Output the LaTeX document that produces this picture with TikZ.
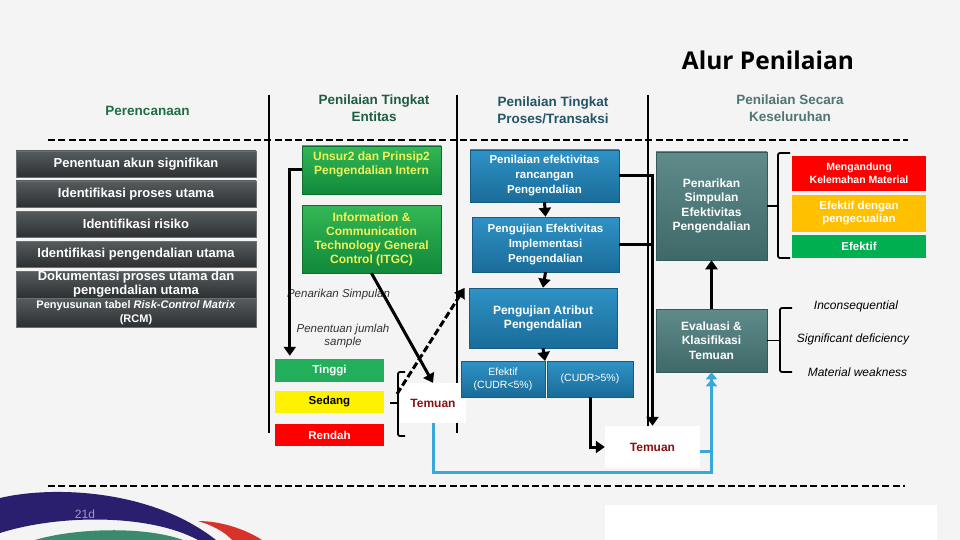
\documentclass[tikz,border=0pt]{standalone}
\usepackage{fontspec}
\setmainfont{Liberation Sans}
\newfontfamily\titlefont{Open Sans}
\usetikzlibrary{arrows.meta,calc}
\definecolor{bg}{HTML}{F4F4F4}
\definecolor{dkT}{HTML}{565B5E}
\definecolor{dkB}{HTML}{2C3033}
\definecolor{dkE}{HTML}{6A6F72}
\definecolor{gT}{HTML}{34B755}
\definecolor{gB}{HTML}{10893B}
\definecolor{bT}{HTML}{2F92C6}
\definecolor{bB}{HTML}{1A6C99}
\definecolor{tT}{HTML}{5F8B8A}
\definecolor{tB}{HTML}{3E6968}
\definecolor{ytext}{HTML}{F2F25A}
\definecolor{hA}{HTML}{1E6E44}
\definecolor{hB}{HTML}{1F5D42}
\definecolor{hC}{HTML}{245468}
\definecolor{hD}{HTML}{4F7473}
\definecolor{temred}{HTML}{8A1010}
\definecolor{lblue}{HTML}{38A7D9}
\definecolor{navy}{HTML}{2A1F6E}
\definecolor{lgreen}{HTML}{3A8A6E}
\definecolor{lred}{HTML}{D8322A}
\definecolor{amber}{HTML}{FFC000}
\definecolor{okgreen}{HTML}{00B050}
\definecolor{tgreen}{HTML}{22AE5B}
\tikzset{
  darkbox/.style={top color=dkT, bottom color=dkB, draw=dkE, line width=0.6pt,
    text=white, font=\bfseries\fontsize{13}{14}\selectfont, minimum width=240pt,
    inner sep=0pt, align=center},
  greenbox/.style={top color=gT, bottom color=gB, draw=gB!80!black, line width=0.5pt,
    text=ytext, font=\bfseries\fontsize{12}{14}\selectfont, minimum width=139pt,
    inner sep=0pt, align=center},
  bluebox/.style={top color=bT, bottom color=bB, draw=bB!85!black, line width=0.5pt,
    text=white, font=\bfseries\fontsize{11.5}{15}\selectfont, inner sep=0pt, align=center},
  tealbox/.style={top color=tT, bottom color=tB, draw=tB!85!black, line width=0.5pt,
    text=white, font=\bfseries\fontsize{12}{14.5}\selectfont, minimum width=111pt,
    inner sep=0pt, align=center},
  flat/.style={inner sep=0pt, align=center, font=\bfseries\fontsize{11.5}{13}\selectfont},
  hdr/.style={font=\bfseries\fontsize{13.5}{17}\selectfont, align=center},
  ital/.style={font=\itshape\fontsize{12}{13}\selectfont, align=center},
  temuan/.style={fill=white, text=temred, font=\bfseries\fontsize{12}{14}\selectfont, inner sep=0pt},
  sepline/.style={line width=1.8pt, black},
  dashline/.style={line width=2.8pt, black, dash pattern=on 7pt off 3.3pt},
  arr/.style={line width=3pt, -{Triangle[length=9pt,width=12pt]}},
  plainline/.style={line width=3pt},
  dasharr/.style={line width=3pt, dash pattern=on 7pt off 3pt, -{Triangle[length=10pt,width=12pt]}},
  brk/.style={line width=1.8pt, rounded corners=2pt},
  blueline/.style={line width=3pt, lblue},
}
\begin{document}
\begin{tikzpicture}[x=1pt,y=-1pt]
\useasboundingbox (0,0) rectangle (960,540);
\fill[bg] (0,0) rectangle (960,540);

% title
\node[font=\titlefont\bfseries\fontsize{24.5}{28}\selectfont] (title) at (768,60) {Alur Penilaian};

% headers
\node[hdr, text=hA] (h1) at (147.5,111) {Perencanaan};
\node[hdr, text=hB] (h2) at (374,108.5) {Penilaian Tingkat\\Entitas};
\node[hdr, text=hC] (h3) at (553,110) {Penilaian Tingkat\\Proses/Transaksi};
\node[hdr, text=hD] (h4) at (790,108) {Penilaian Secara\\Keseluruhan};

% separators and dashed rules
\draw[sepline] (269,95) -- (269,433);
\draw[sepline] (457,95) -- (457,433);
\draw[sepline] (648,95) -- (648,433);
\draw[dashline] (48,140) -- (908,140);
\draw[dashline] (48,486) -- (905,486);

% left column
\node[darkbox, minimum height=26pt] (p1) at (136,164) {Penentuan akun signifikan};
\node[darkbox, minimum height=26pt] (p2) at (136,194) {Identifikasi proses utama};
\node[darkbox, minimum height=26pt] (p3) at (136,224) {Identifikasi risiko};
\node[darkbox, minimum height=26pt] (p4) at (136,254) {Identifikasi pengendalian utama};
\node[darkbox, minimum height=27pt] (p5) at (136,284.5) {Dokumentasi proses utama dan\\pengendalian utama};
\node[darkbox, minimum height=29pt, font=\bfseries\fontsize{11}{14.5}\selectfont] (p6) at (136,312.5) {Penyusunan tabel \textit{Risk-Control Matrix}\\(RCM)};

% entity column
\node[greenbox, minimum height=48pt,
  label={[text=ytext, font=\bfseries\fontsize{12}{14}\selectfont, align=center, anchor=north, yshift=-3pt]north:Unsur2 dan Prinsip2\\Pengendalian Intern}] (g1) at (371.5,170) {};
\node[greenbox, minimum height=68pt] (g2) at (371.5,239) {Information \&\\Communication\\Technology General\\Control (ITGC)};

\node[ital, text=black!80, font=\itshape\fontsize{11.5}{13}\selectfont] (ps) at (338.5,295) {Penarikan Simpulan};
\node[ital, text=black!80, font=\itshape\fontsize{11.5}{13}\selectfont] (pj) at (343,336.5) {Penentuan jumlah\\sample};

\node[flat, fill=tgreen, text=white, minimum width=109pt, minimum height=23pt] (tg) at (329.5,370.5) {Tinggi};
\node[flat, fill=yellow, text=black, minimum width=109pt, minimum height=22pt] (sd) at (329.5,402) {Sedang};
\node[flat, fill=red, text=white, minimum width=109pt, minimum height=22pt] (rd) at (329.5,435) {Rendah};

\node[temuan, minimum width=66pt, minimum height=40pt] (t1) at (433,403) {Temuan};

% process column
\node[bluebox, minimum width=149pt, minimum height=52pt] (A) at (544.5,176) {Penilaian efektivitas\\rancangan\\Pengendalian};
\node[bluebox, minimum width=147pt, minimum height=55pt] (B) at (545.5,244.5) {Pengujian Efektivitas\\Implementasi\\Pengendalian};
\node[bluebox, minimum width=148pt, minimum height=60pt, font=\bfseries\fontsize{12}{14}\selectfont] (C) at (543,318) {Pengujian Atribut\\Pengendalian};
\node[bluebox, minimum width=84pt, minimum height=36pt, font=\fontsize{10.5}{13}\selectfont] (D1) at (503,379) {Efektif\\(CUDR<5\%)};
\node[bluebox, minimum width=86pt, minimum height=36pt, font=\fontsize{10.5}{13}\selectfont] (D2) at (590,379) {(CUDR>5\%)};
\coordinate (dtop) at (545,361);

\node[temuan, minimum width=95pt, minimum height=42pt] (t2) at (652.5,447) {Temuan};

% overall column
\node[tealbox, minimum height=108pt] (E) at (711.5,206) {Penarikan\\Simpulan\\Efektivitas\\Pengendalian};
\node[tealbox, minimum height=63pt] (F) at (711.5,340.5) {Evaluasi \&\\Klasifikasi\\Temuan};

\node[flat, fill=red, text=white, minimum width=134pt, minimum height=35pt, font=\bfseries\fontsize{10.5}{13}\selectfont] (r1) at (859,173.5) {Mengandung\\Kelemahan Material};
\node[flat, fill=amber, text=white, minimum width=134pt, minimum height=37pt] (r2) at (859,213.5) {Efektif dengan\\pengecualian};
\node[flat, fill=okgreen, text=white, minimum width=134pt, minimum height=23pt] (r3) at (859,246.5) {Efektif};

\node[ital] (i1) at (856,306) {Inconsequential};
\node[ital] (i2) at (853,339.5) {Significant deficiency};
\node[ital] (i3) at (857.5,372) {Material weakness};

% connectors
\draw[arr] (g1.west) -| ([xshift=15pt,yshift=3pt]tg.north west);
\draw[arr] (g2.south) -- (t1.north);
\coordinate (ds) at (397,394);
\draw[dasharr] (ds) -- ([xshift=-4pt]C.north west);
\draw[arr] (A.south) -- (B.north);
\draw[arr] (B.south) -- (C.north);
\draw[arr] (C.south) -- (dtop);
\draw[arr] (A.east) -| (t2.north);
\draw[plainline] (B.east) -- (B.east -| t2.north);
\draw[arr] (D2.south) |- (t2.west);
\draw[arr] (F.north) -- (E.south);

% blue feedback
\draw[blueline, -{Triangle[length=7pt,width=11pt]Triangle[length=7pt,width=11pt]}] (t1.south) -- ++(0,49) -| (F.south);
\coordinate (stub) at ([yshift=-4pt]t2.east);
\draw[blueline] (stub) -- (stub -| F.south);

% brackets
\draw[brk] (390,403) -- (398,403);
\draw[brk] (405,372) -- (398,372) -- (398,436) -- (405,436);
\draw[brk] (E.east) -- (778,206);
\draw[brk] (790,153) -- (778,153) -- (778,258) -- (790,258);
\draw[brk] (F.east) -- (780,340.5);
\draw[brk] (792,308) -- (780,308) -- (780,372) -- (792,372);

% bottom right white panel
\fill[white] (605,505) rectangle (937,540);

% logo
\fill[navy] (0,498) .. controls (50,486) and (150,488) .. (216,540) -- (198,540)
  .. controls (150,514) and (60,514) .. (0,533) -- cycle;
\fill[lgreen] (35,540) .. controls (75,528) and (145,526) .. (183,540) -- cycle;
\fill[lred] (198,521) .. controls (225,521) and (250,532) .. (262,540) -- (232,540)
  .. controls (225,532) and (212,525) .. (198,521) -- cycle;
\node[text=white!55!navy, font=\fontsize{12}{14}\selectfont] (logo) at (85,514) {21d};
\end{tikzpicture}
\end{document}
